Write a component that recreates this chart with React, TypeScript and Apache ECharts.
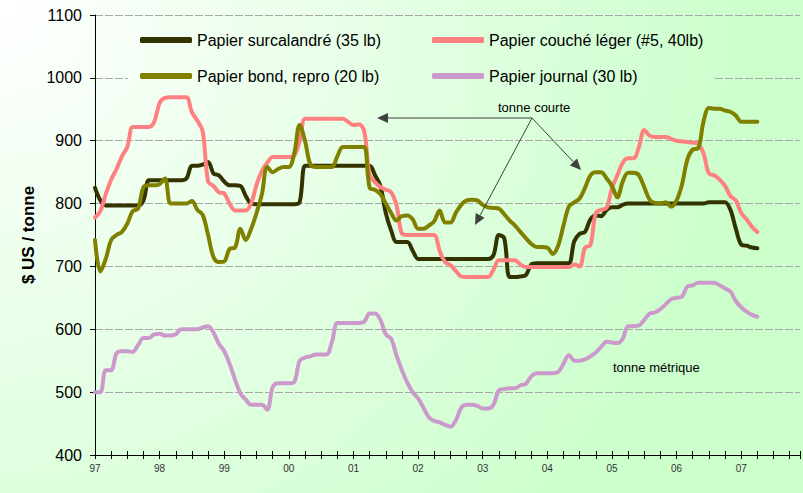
import React, { useEffect, useRef } from 'react';
import * as echarts from 'echarts';

const START_YEAR = 1997;
const yearLabels = ['97', '98', '99', '00', '01', '02', '03', '04', '05', '06', '07'];
const seriesNames = [
  'Papier surcalandré (35 lb)',
  'Papier couché léger (#5, 40lb)',
  'Papier bond, repro (20 lb)',
  'Papier journal (30 lb)',
];

// monthly prices from Jan 1997
const surcalandre = [
  825, 805, 797, 797, 797, 797, 797, 797, 797, 805,
  837, 837, 837, 837, 837, 837, 837,
  840, 860, 860, 862, 866, 848, 845, 835, 829, 829, 828, 812, 800,
  799, 799, 799, 799, 799, 799, 799, 799,
  802, 860,
  860, 860, 860, 860, 860, 860, 860, 860, 860, 860, 860, 860,
  845, 828, 785, 757, 739, 739, 739, 725,
  712, 712, 712, 712, 712, 712, 712, 712, 712, 712, 712, 712, 712, 712,
  718, 750, 745, 683, 683, 684, 686, 703,
  705, 705, 705, 705, 705, 705, 705,
  740, 752, 755, 775, 781, 780, 790, 794, 794, 798,
  800, 800, 800, 800, 800, 800, 800, 800, 800, 800, 800, 800, 800, 800, 800,
  802, 802, 802, 802,
  790, 760, 735, 733, 730, 729,
];

const coucheLeger = [
  778, 788, 815, 838, 855, 875, 890, 922, 922, 922,
  922, 930, 960, 968, 969, 969, 969, 969, 945, 932,
  915, 835, 828, 818, 816, 800, 789, 789, 789, 800,
  830, 852, 865, 874, 874, 874, 874, 876, 900, 935,
  935, 935, 935, 935, 935, 935, 935,
  930, 925, 926, 915, 845, 834, 826, 822, 818, 797, 752,
  750, 750, 750, 750, 750, 750,
  725, 707, 702, 693, 684,
  683, 683, 683, 683, 683,
  695, 710, 710, 710, 710, 703,
  699, 699, 699, 699, 699, 699, 699, 699, 699,
  703, 700, 730, 734, 785, 790, 793, 825, 845, 865,
  872, 872, 890, 917, 908, 906, 906, 906, 903, 900,
  899, 898, 897, 895, 880, 848, 845, 838, 828, 812,
  805, 785, 775, 763, 755,
];

const bondRepro = [
  742, 692, 712, 742, 750, 755, 768, 788, 792, 826,
  829, 829, 831, 840, 800, 800, 800, 800, 804, 790,
  782, 750, 715, 707, 708, 728, 730, 760, 742, 760,
  785, 815, 858, 850, 855, 858, 858, 880, 925, 900,
  862, 858, 858, 858, 858, 875, 890, 890, 890, 890,
  890, 825, 822, 815, 800, 785, 773, 780, 781, 775,
  760, 760, 765, 772, 789, 770, 770, 785, 798, 805,
  806, 805, 798, 794, 793, 792, 783, 773, 765, 755,
  745, 736, 731, 731, 730, 720, 733, 765, 795, 802,
  808, 825, 845, 850, 850, 840, 828, 810, 835, 849,
  849, 845, 826, 806, 801, 800, 802, 795, 805, 830,
  870, 886, 888, 930, 952, 951, 951, 948, 946, 940,
  930, 930, 930, 930,
];

const journal = [
  500, 500, 535, 535, 562, 565, 565, 564, 575, 586,
  586, 592, 593, 590, 590, 592, 600, 600, 600, 600,
  603, 605, 595, 577, 565, 545, 520, 498, 488, 480,
  480, 480, 472, 508, 514, 514, 514, 516, 550, 555,
  557, 560, 560, 560, 580, 610, 610, 610, 610, 610,
  612, 625, 625, 615, 592, 585, 558, 535, 515, 500,
  490, 475, 460, 454, 452, 448, 445, 455, 475, 480,
  480, 478, 474, 474, 480, 503, 505, 506, 506, 511,
  513, 525, 530, 530, 530, 530, 532, 545, 559, 550,
  550, 552, 557, 563, 572, 580, 579, 578, 585, 605,
  605, 606, 615, 625, 627, 632, 640, 648, 650, 652,
  668, 670, 674, 674, 674, 674, 670, 665, 660, 645,
  635, 628, 623, 620,
];

const colors = ['#333300', '#ff8080', '#808000', '#cc99cc'];

const toPairs = (vals: number[]) => vals.map((v, i) => [START_YEAR + i / 12, v]);

const bgGradient = () =>
  new echarts.graphic.RadialGradient(0, 0, 942, [
    { offset: 0, color: '#ffffff' },
    { offset: 0.8, color: '#ccffcc' },
    { offset: 1, color: '#ccffcc' },
  ], true);

function arrow(x1: number, y1: number, x2: number, y2: number) {
  const len = 11;
  const hw = 5;
  const dx = x2 - x1;
  const dy = y2 - y1;
  const d = Math.sqrt(dx * dx + dy * dy);
  const ux = dx / d;
  const uy = dy / d;
  const bx = x2 - ux * len;
  const by = y2 - uy * len;
  return [
    {
      type: 'line',
      z: 10,
      shape: { x1, y1, x2: bx, y2: by },
      style: { stroke: '#404040', lineWidth: 1 },
    },
    {
      type: 'polygon',
      z: 10,
      shape: {
        points: [
          [x2, y2],
          [bx - uy * hw, by + ux * hw],
          [bx + uy * hw, by - ux * hw],
        ],
      },
      style: { fill: '#404040' },
    },
  ];
}

export default function App() {
  const ref = useRef<HTMLDivElement>(null);
  useEffect(() => {
    if (!ref.current) return;
    const chart = echarts.init(ref.current, undefined, { renderer: 'svg' });
    const allData = [surcalandre, coucheLeger, bondRepro, journal];
    const font = 'Arial, "Liberation Sans", sans-serif';
    const xCommon = {
      type: 'value',
      min: START_YEAR,
      max: 2007.91,
      interval: 0.25,
      splitLine: { show: false },
    };
    chart.setOption({
      animation: false,
      grid: { left: 95, top: 15, right: 0, bottom: 38 },
      legend: [
        {
          data: [seriesNames[0], seriesNames[2]],
          orient: 'vertical',
          left: 135,
          top: 27,
          itemGap: 20,
          itemWidth: 52,
          itemHeight: 6,
          icon: 'roundRect',
          selectedMode: false,
          textStyle: { fontSize: 16, color: '#000', fontFamily: font },
        },
        {
          data: [seriesNames[1], seriesNames[3]],
          orient: 'vertical',
          left: 427,
          top: 27,
          itemGap: 20,
          itemWidth: 52,
          itemHeight: 6,
          icon: 'roundRect',
          selectedMode: false,
          textStyle: { fontSize: 16, color: '#000', fontFamily: font },
        },
      ],
      xAxis: [
        {
          ...xCommon,
          axisLine: { show: true, lineStyle: { color: '#000', width: 1 } },
          axisTick: { show: true, length: 4, lineStyle: { color: '#000' } },
          axisLabel: {
            margin: 8,
            fontSize: 10,
            color: '#333',
            fontFamily: '"Liberation Sans Narrow", "Arial Narrow", Arial, sans-serif',
            formatter: (v: number) => {
              const r = Math.round(v);
              if (Math.abs(v - r) > 1e-6) return '';
              return yearLabels[r - START_YEAR] ?? '';
            },
          },
        },
        {
          ...xCommon,
          position: 'bottom',
          axisLine: { show: false },
          axisTick: { show: true, inside: true, length: 4, lineStyle: { color: '#000' } },
          axisLabel: { show: false },
        },
      ],
      yAxis: {
        type: 'value',
        min: 400,
        max: 1100,
        interval: 100,
        axisLine: { show: true, lineStyle: { color: '#000', width: 1 } },
        axisTick: { show: true, length: 5, lineStyle: { color: '#000' } },
        axisLabel: {
          margin: 13,
          fontSize: 16,
          color: '#000',
          fontFamily: font,
          formatter: (v: number) => String(v),
        },
        splitLine: {
          show: true,
          lineStyle: { color: '#a8a8a8', type: [8, 2], width: 1 },
        },
      },
      graphic: [
        {
          type: 'rect',
          z: 1,
          shape: { x: 128, y: 20, width: 587, height: 75 },
          style: { fill: bgGradient() },
        },
        {
          type: 'text',
          x: 28,
          y: 235,
          rotation: Math.PI / 2,
          style: {
            text: '$ US / tonne',
            fontSize: 17,
            fontWeight: 'bold',
            fontFamily: font,
            fill: '#000',
            align: 'center',
            verticalAlign: 'middle',
          },
        },
        {
          type: 'text',
          x: 498,
          y: 107,
          z: 10,
          style: {
            text: 'tonne courte',
            fontSize: 13,
            fontFamily: font,
            fill: '#000',
            align: 'left',
            verticalAlign: 'middle',
          },
        },
        {
          type: 'text',
          x: 613,
          y: 367,
          z: 10,
          style: {
            text: 'tonne métrique',
            fontSize: 13,
            fontFamily: font,
            fill: '#000',
            align: 'left',
            verticalAlign: 'middle',
          },
        },
        ...arrow(532, 118, 377, 118),
        ...arrow(532, 118, 475, 225),
        ...arrow(532, 118, 581, 170),
      ],
      series: allData.map((vals, i) => ({
        name: seriesNames[i],
        type: 'line',
        xAxisIndex: 0,
        data: toPairs(vals),
        showSymbol: false,
        smooth: 0.35,
        color: colors[i],
        itemStyle: { color: colors[i] },
        lineStyle: { color: colors[i], width: 4, cap: 'round', join: 'round' },
        z: 3,
      })),
    });
    return () => chart.dispose();
  }, []);
  return (
    <div
      ref={ref}
      style={{
        position: 'absolute',
        left: 0,
        top: 0,
        width: 803,
        height: 493,
        background: 'radial-gradient(circle farthest-corner at 0 0, #ffffff 0%, #ccffcc 80%, #ccffcc 100%)',
      }}
    />
  );
}
